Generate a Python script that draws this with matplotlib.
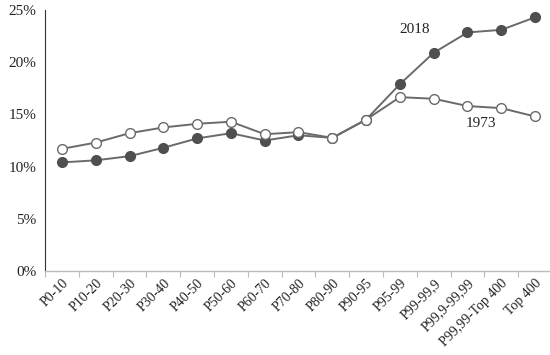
import matplotlib.pyplot as plt
import numpy as np

categories = ["P0-10", "P10-20", "P20-30", "P30-40", "P40-50", "P50-60", "P60-70",
              "P70-80", "P80-90", "P90-95", "P95-99", "P99-99,9", "P99,9-99,99",
              "P99,99-Top 400", "Top 400"]
y2018 = [10.4, 10.6, 11.0, 11.8, 12.7, 13.2, 12.5, 13.0, 12.75, 14.5, 17.9, 20.9, 22.85, 23.1, 24.3]
y1973 = [11.7, 12.3, 13.2, 13.75, 14.1, 14.3, 13.1, 13.3, 12.75, 14.5, 16.65, 16.5, 15.8, 15.6, 14.8]
yticks = [0, 5, 10, 15, 20, 25]

plt.rcParams['font.family'] = ['Liberation Serif', 'DejaVu Serif']

fig = plt.figure(figsize=(5.5, 3.55), dpi=100)
ax = fig.add_axes([45 / 550, 84 / 355, 507 / 550, 261 / 355])

x = np.arange(len(categories))
ax.plot(x, y2018, color="#6a6a6a", lw=1.4, marker="o", ms=7,
        mfc="#4f4f4f", mec="#4f4f4f", zorder=3)
ax.plot(x, y1973, color="#6a6a6a", lw=1.4, marker="o", ms=7,
        mfc="white", mec="#6a6a6a", mew=1.0, zorder=3)

ax.text(10.45, 23.1, "2018", fontsize=11, ha="center", va="center", color="#222222")
ax.text(12.4, 14.1, "1973", fontsize=11, ha="center", va="center", color="#222222")

ax.set_xlim(-0.5, 14.5)
ax.set_ylim(0, 25)
ax.set_yticks(yticks)
ax.set_yticklabels([f"{v}%" for v in yticks], fontsize=11, color="#222222")
ax.tick_params(axis="y", length=0, pad=6)

ax.set_xticks(x)
ax.set_xticklabels(categories, rotation=45, ha="right", rotation_mode="anchor",
                   fontsize=10, color="#222222")
ax.tick_params(axis="x", which="major", length=0, pad=4)
ax.set_xticks(np.arange(-0.5, 15, 1), minor=True)
ax.tick_params(axis="x", which="minor", length=4, color="#bbbbbb", width=0.8)

for s in ["top", "right"]:
    ax.spines[s].set_visible(False)
ax.spines["left"].set_color("#333333")
ax.spines["left"].set_linewidth(0.8)
ax.spines["bottom"].set_color("#bbbbbb")
ax.spines["bottom"].set_linewidth(1.0)

plt.savefig("out.png", dpi=100)
